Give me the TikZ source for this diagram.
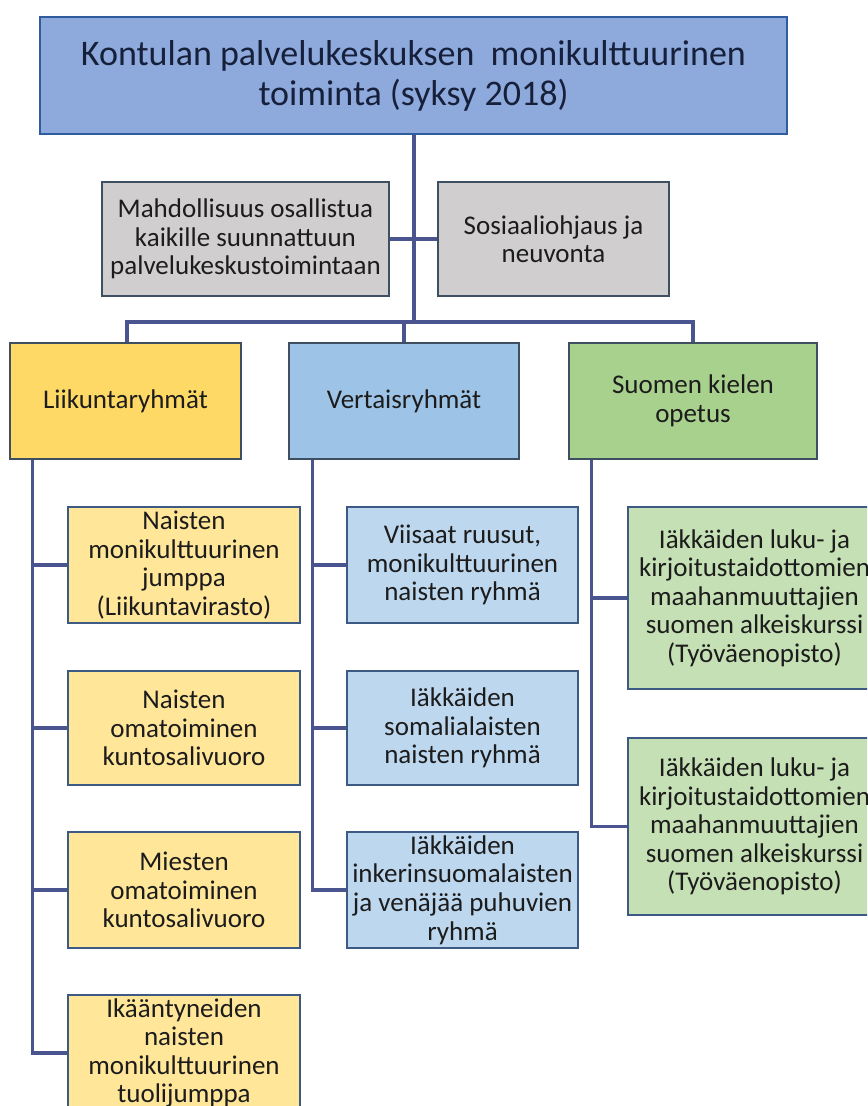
\documentclass[tikz,border=0pt]{standalone}
\usepackage{fontspec}
\setmainfont{Carlito}
\usetikzlibrary{calc}
\definecolor{topfill}{HTML}{8EA9DB}
\definecolor{topline}{HTML}{2F5C9E}
\definecolor{greyfill}{HTML}{D0CECE}
\definecolor{slate}{HTML}{3F4F62}
\definecolor{slateblue}{HTML}{3D5A85}
\definecolor{yelA}{HTML}{FFD966}
\definecolor{bluA}{HTML}{9DC3E6}
\definecolor{grnA}{HTML}{A9D18E}
\definecolor{yelB}{HTML}{FFE699}
\definecolor{bluB}{HTML}{BDD7EE}
\definecolor{grnB}{HTML}{C5E0B4}
\definecolor{wire}{HTML}{4A5590}
\definecolor{ink}{HTML}{1C1C1C}
\definecolor{navyink}{HTML}{16203A}
\tikzset{
  sz/.style 2 args={minimum width=#1*0.75pt, minimum height=#2*0.75pt},
  orgbox/.style={rectangle, inner sep=0pt, align=center, text=ink,
    line width=2pt, font=\fontsize{20.25pt}{21.4pt}\selectfont},
  titlebox/.style={orgbox, fill=topfill, draw=topline, text=navyink,
    font=\fontsize{27pt}{30pt}\selectfont},
  greybox/.style={orgbox, fill=greyfill, draw=slate},
  headbox/.style={orgbox, draw=slate},
  itembox/.style={orgbox, draw=slateblue},
  conn/.style={draw=wire, line width=2.3pt}
}
\begin{document}
\begin{tikzpicture}[x={(0.75pt,0)}, y={(0,-0.75pt)}]
\useasboundingbox (0,0) rectangle (867,1106);
\clip (0,0) rectangle (867,1106);

% top level
\node[titlebox, sz={747}{117}] (top) at (413.5,75.5)
  {Kontulan palvelukeskuksen\ \ monikulttuurinen\\toiminta (syksy 2018)};

% services beside the trunk
\node[greybox, sz={287}{114}] (open) at (245.5,239)
  {Mahdollisuus osallistua\\kaikille suunnattuun\\palvelukeskustoimintaan};
\node[greybox, sz={231}{114}] (social) at (553.5,239)
  {Sosiaaliohjaus ja\\neuvonta};

% main groups
\node[headbox, fill=yelA, sz={231}{116}] (sport) at (125.5,401) {Liikuntaryhmät};
\node[headbox, fill=bluA, sz={230}{116}] (peer) at (404,401) {Vertaisryhmät};
\node[headbox, fill=grnA, sz={248}{116}] (lang) at (693,401) {Suomen kielen\\opetus};

% exercise groups
\node[itembox, fill=yelB, sz={232}{116}] (y1) at (184,565)
  {Naisten\\monikulttuurinen\\jumppa\\(Liikuntavirasto)};
\node[itembox, fill=yelB, sz={232}{114}] (y2) at (184,728)
  {Naisten\\omatoiminen\\kuntosalivuoro};
\node[itembox, fill=yelB, sz={232}{116}] (y3) at (184,890)
  {Miesten\\omatoiminen\\kuntosalivuoro};
\node[itembox, fill=yelB, sz={232}{116}] (y4) at (184,1053)
  {Ikääntyneiden\\naisten\\monikulttuurinen\\tuolijumppa};

% peer groups
\node[itembox, fill=bluB, sz={231}{116}] (b1) at (462.5,565)
  {Viisaat ruusut,\\monikulttuurinen\\naisten ryhmä};
\node[itembox, fill=bluB, sz={231}{114}] (b2) at (462.5,728)
  {Iäkkäiden\\somalialaisten\\naisten ryhmä};
\node[itembox, fill=bluB, sz={231}{116}] (b3) at (462.5,890)
  {Iäkkäiden\\inkerinsuomalaisten\\ja venäjää puhuvien\\ryhmä};

% language courses
\node[itembox, fill=grnB, sz={253}{182}] (g1) at (754.5,598)
  {Iäkkäiden luku- ja\\kirjoitustaidottomien\\maahanmuuttajien\\suomen alkeiskurssi\\(Työväenopisto)};
\node[itembox, fill=grnB, sz={253}{177}] (g2) at (754.5,826.5)
  {Iäkkäiden luku- ja\\kirjoitustaidottomien\\maahanmuuttajien\\suomen alkeiskurssi\\(Työväenopisto)};

% trunk and bus
\coordinate (bus) at (414,322);
\draw[conn] (top.south -| bus) -- (bus);
\draw[conn] (open.east) -- (social.west);
\draw[conn] (sport.north) ++(1.5,0) coordinate (sn) |- (bus) -| (lang.north);
\draw[conn] (peer.north) -- (peer.north |- bus);

% spines under the main groups
\coordinate (ls) at ($(sport.south west)+(24,0)$);
\coordinate (ps) at ($(peer.south west)+(25,0)$);
\coordinate (gs) at ($(lang.south west)+(24,0)$);
\draw[conn] (ls) |- (y4.west);
\draw[conn] (y1.west) -- (y1.west -| ls);
\draw[conn] (y2.west) -- (y2.west -| ls);
\draw[conn] (y3.west) -- (y3.west -| ls);
\draw[conn] (ps) |- (b3.west);
\draw[conn] (b1.west) -- (b1.west -| ps);
\draw[conn] (b2.west) -- (b2.west -| ps);
\draw[conn] (gs) |- (g2.west);
\draw[conn] (g1.west) -- (g1.west -| gs);
\end{tikzpicture}
\end{document}
